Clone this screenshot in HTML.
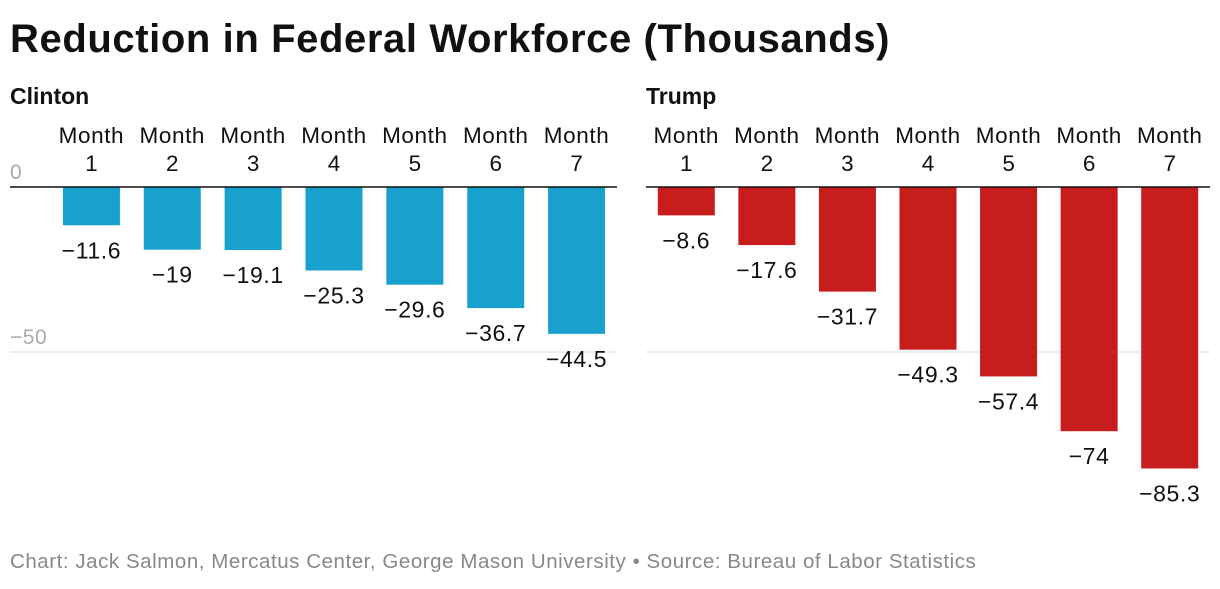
<!DOCTYPE html>
<html><head><meta charset="utf-8">
<style>
body{margin:0;background:#fff;width:1220px;height:584px;overflow:hidden;font-family:"Liberation Sans",Arial,sans-serif;}
svg text{font-family:"Liberation Sans",Arial,sans-serif;}
</style></head>
<body>
<svg width="1220" height="584">
<text x="10" y="52" font-size="40" font-weight="bold" fill="#111" letter-spacing="0.6">Reduction in Federal Workforce (Thousands)</text>
<text x="10" y="104" font-size="23" font-weight="bold" fill="#111">Clinton</text>
<text x="646" y="104" font-size="23" font-weight="bold" fill="#111">Trump</text>
<g id="panels"></g>
<text x="10" y="568" font-size="20.5" fill="#888" letter-spacing="0.55">Chart: Jack Salmon, Mercatus Center, George Mason University • Source: Bureau of Labor Statistics</text>
</svg>
<script>
const months = ["Month 1","Month 2","Month 3","Month 4","Month 5","Month 6","Month 7"];
const clintonValues = [-11.6,-19,-19.1,-25.3,-29.6,-36.7,-44.5];
const trumpValues = [-8.6,-17.6,-31.7,-49.3,-57.4,-74,-85.3];
const yTicks = [0,-50];
const NS="http://www.w3.org/2000/svg";
const g=document.getElementById('panels');
const zeroY=187, pxPerUnit=3.3;
function y(v){return zeroY - v*pxPerUnit;}
function mk(tag,attrs,text){const e=document.createElementNS(NS,tag);for(const k in attrs)e.setAttribute(k,attrs[k]);if(text!==undefined)e.textContent=text;g.appendChild(e);return e;}
function panel(name,values,color,left,plotLeft,right,showTicks){
  const step=(right-plotLeft)/values.length, bw=57;
  yTicks.forEach(t=>{
    if(t!==0){const l=mk('line',{x1:showTicks?left:plotLeft,x2:right,y1:y(t),y2:y(t),stroke:'#ddd','stroke-width':1});
      
      }
    if(showTicks){const tx=mk('text',{x:left,y:y(t)-8,'font-size':21,fill:'#aaa','letter-spacing':0.5},t===0?'0':'\u2212'+Math.abs(t));
      
      }
  });
  values.forEach((v,i)=>{
    const cx=plotLeft+step*(i+0.5);
    const parts=months[i].split(' ');
    const m1=mk('text',{x:cx,y:143,'font-size':22.5,fill:'#111','text-anchor':'middle','letter-spacing':0.6},parts[0]);
    
    
    const m2=mk('text',{x:cx,y:171,'font-size':22.5,fill:'#111','text-anchor':'middle'},parts[1]);
    
    
    const r=mk('rect',{x:cx-bw/2,y:zeroY,width:bw,height:y(v)-zeroY,fill:color});
    
    
    const lb=mk('text',{x:cx,y:y(v)+33,'font-size':23,fill:'#111','text-anchor':'middle','letter-spacing':0.6},'\u2212'+Math.abs(v));
    
    
  });
  const z=mk('line',{x1:showTicks?left:plotLeft,x2:right,y1:zeroY,y2:zeroY,stroke:'#111','stroke-width':1.5});
  
  
}
panel('clinton',clintonValues,'#18a1cd',10,51,617,true);
panel('trump',trumpValues,'#c71e1d',646,646,1210,false);
</script>
</body></html>
